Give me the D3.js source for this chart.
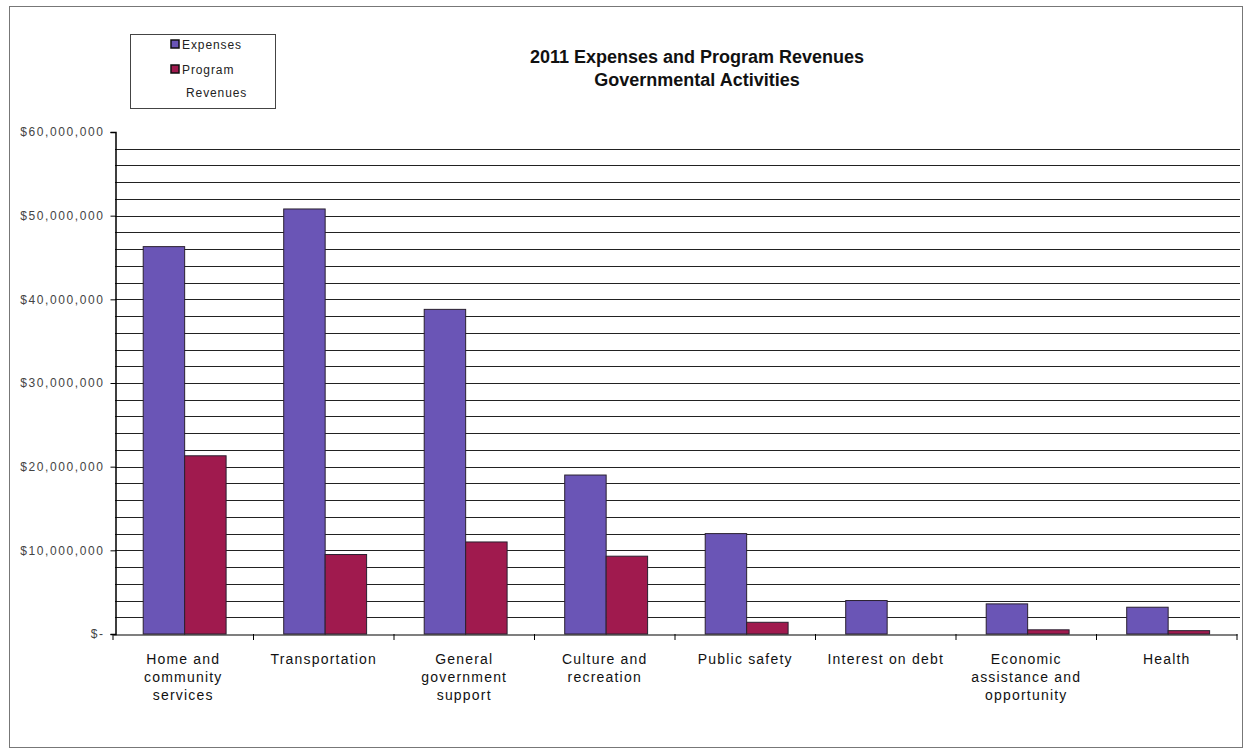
<!DOCTYPE html>
<html><head><meta charset="utf-8">
<script src="https://cdn.jsdelivr.net/npm/d3@7"></script>
<style>html,body{margin:0;padding:0;background:#fff;}svg{display:block;font-family:Arial,"Liberation Sans",sans-serif;}</style>
</head><body>
<svg id="c" width="1246" height="755"></svg>
<script>
const categories = [["Home and","community","services"],["Transportation"],["General","government","support"],["Culture and","recreation"],["Public safety"],["Interest on debt"],["Economic","assistance and","opportunity"],["Health"]];
const seriesNames = ["Expenses","Program Revenues"];
const expenses = [46300000, 50800000, 38800000, 19000000, 12000000, 4000000, 3600000, 3200000];
const revenues = [21300000, 9500000, 11000000, 9300000, 1400000, 0, 500000, 400000];
const yTicks = [0, 10000000, 20000000, 30000000, 40000000, 50000000, 60000000];
const colors = ["#6a55b6", "#a01a4e"];

const svg = d3.select("#c");
// outer frame
svg.append("rect").attr("x",9.5).attr("y",6.5).attr("width",1233).attr("height",741)
  .attr("fill","none").attr("stroke","#777").attr("stroke-width",1);

const y = d3.scaleLinear().domain([0,60000000]).range([634,132]);
const keys = categories.map((c,i)=>i);
const x0 = d3.scaleBand().domain(keys).range([113,1237]).padding(0);
const bw = x0.bandwidth();
const x1 = d3.scaleBand().domain(seriesNames).range([bw*0.215, bw*0.805]).padding(0);

// gridlines every 2M
const grid = d3.range(2000000, 60000000, 2000000);
svg.append("g").selectAll("line").data(grid).join("line")
  .attr("x1",115).attr("x2",1240).attr("y1",d=>Math.round(y(d))+0.5).attr("y2",d=>Math.round(y(d))+0.5)
  .attr("stroke","#222").attr("stroke-width",1.1);

// bars
const data = [expenses, revenues];
const g = svg.append("g");
keys.forEach(i=>{
  seriesNames.forEach((s,j)=>{
    const v = data[j][i];
    if (v<=0) return;
    g.append("rect")
      .attr("x", x0(i)+x1(s)).attr("y", y(v))
      .attr("width", x1.bandwidth()).attr("height", y(0)-y(v))
      .attr("fill", colors[j]).attr("stroke","#2a2030").attr("stroke-width",1);
  });
});

// y axis
const fmt = d => d===0 ? "$-" : "$" + d3.format(",")(d);
const yAxis = d3.axisLeft(y).tickValues(yTicks).tickFormat(fmt).tickSize(5).tickPadding(6);
const ya = svg.append("g").attr("transform","translate(115.5,0)").call(yAxis);
ya.select(".domain").attr("stroke","#000").attr("stroke-width",1.5);
ya.selectAll("text").attr("font-size",12).attr("letter-spacing","1.6px").attr("fill","#444");

// x axis
const xa = d3.axisBottom(x0).tickSize(0).tickFormat("");
const xg = svg.append("g").attr("transform","translate(0,634.5)").call(xa);
xg.select(".domain").attr("stroke","#000").attr("stroke-width",1.2);
// category boundary ticks
svg.append("g").selectAll("line").data(d3.range(0,9)).join("line")
  .attr("x1",d=>113+d*bw).attr("x2",d=>113+d*bw).attr("y1",634).attr("y2",640)
  .attr("stroke","#000").attr("stroke-width",1);
// category labels
const lab = svg.append("g");
keys.forEach(i=>{
  const t = lab.append("text").attr("x", x0(i)+bw/2).attr("y",664)
    .attr("text-anchor","middle").attr("font-size",14).attr("letter-spacing","1.2px").attr("fill","#111");
  categories[i].forEach((line,k)=>{
    t.append("tspan").attr("x",x0(i)+bw/2).attr("dy", k===0?0:18).text(line);
  });
});

// title
svg.append("text").attr("x",697).attr("y",63).attr("text-anchor","middle")
  .attr("font-size",18).attr("font-weight","bold").attr("fill","#111").text("2011 Expenses and Program Revenues");
svg.append("text").attr("x",697).attr("y",86).attr("text-anchor","middle")
  .attr("font-size",18).attr("font-weight","bold").attr("fill","#111").text("Governmental Activities");

// legend
const lg = svg.append("g");
lg.append("rect").attr("x",130.5).attr("y",34.5).attr("width",145).attr("height",74)
  .attr("fill","#fff").attr("stroke","#444").attr("stroke-width",1);
const legItems = [{lines:["Expenses"], y:49},{lines:["Program","Revenues"], y:74}];
legItems.forEach((it,j)=>{
  lg.append("rect").attr("x",171).attr("y",it.y-9).attr("width",8).attr("height",8)
    .attr("fill",colors[j]).attr("stroke","#111").attr("stroke-width",1.5);
  const t = lg.append("text").attr("x",182).attr("y",it.y).attr("font-size",12).attr("letter-spacing","0.9px").attr("fill","#222");
  it.lines.forEach((l,k)=>{
    t.append("tspan").attr("x", k===0?182:186).attr("dy", k===0?0:23).text(l);
  });
});
</script>
</body></html>
